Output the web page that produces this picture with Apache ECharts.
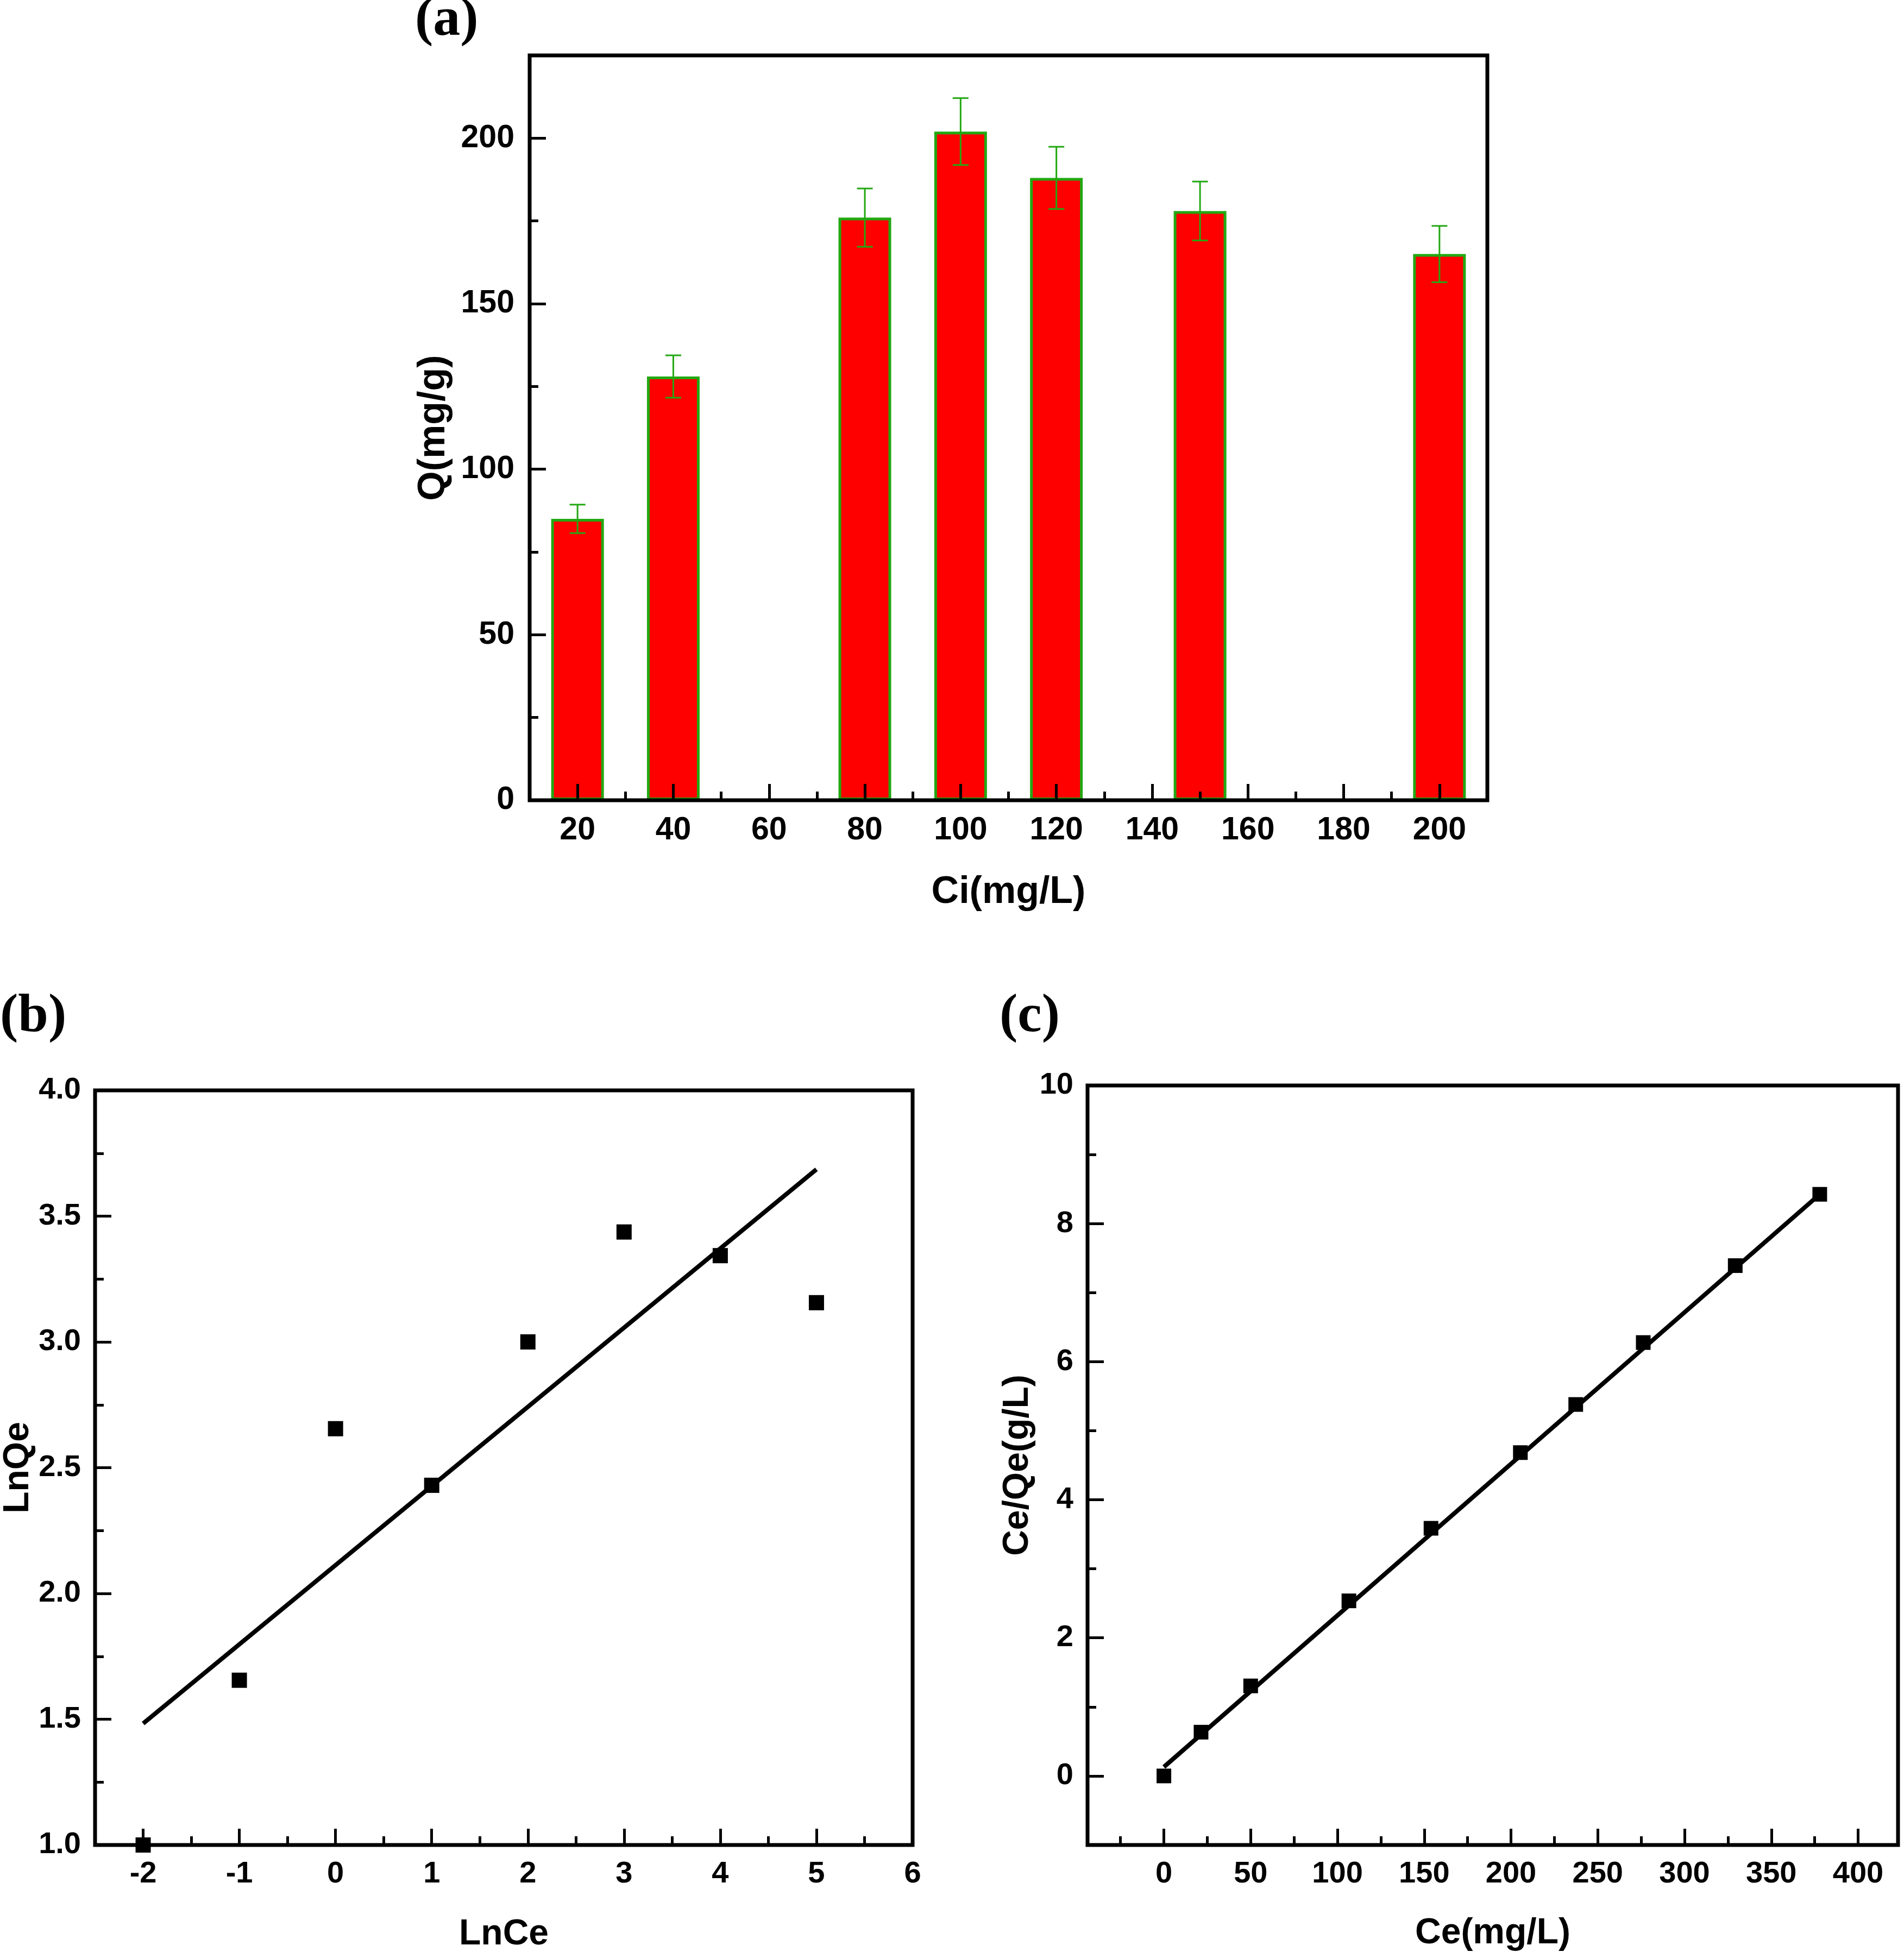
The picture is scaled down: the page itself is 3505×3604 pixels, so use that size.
<!DOCTYPE html>
<html>
<head>
<meta charset="utf-8">
<script src="https://cdn.jsdelivr.net/npm/echarts@6/dist/echarts.min.js"></script>
<style>
html,body{margin:0;padding:0;background:#fff;}
#chart{width:3505px;height:3604px;}
</style>
</head>
<body>
<div id="chart"></div>
<script>
// ---------- Panel (a) data ----------
const ciValues = [20, 40, 80, 100, 120, 150, 200];
const qValues = [85, 128, 176, 202, 188, 178, 165];
const qErrors = [4.3, 6.4, 8.8, 10.1, 9.4, 8.9, 8.5];
const aXTicks = [20, 40, 60, 80, 100, 120, 140, 160, 180, 200];
const aXMinor = [30, 50, 70, 90, 110, 130, 150, 170, 190];
const aYTicks = [0, 50, 100, 150, 200];
const aYMinor = [25, 75, 125, 175];

// ---------- Panel (b) data ----------
const lnCe = [-2, -1, 0, 1, 2, 3, 4, 5];
const lnQe = [1.0, 1.655, 2.655, 2.43, 3.0, 3.437, 3.343, 3.156];
const fitBx = [-2, 5];
const fitBy = [1.483, 3.686];
const bXTicks = [-2, -1, 0, 1, 2, 3, 4, 5, 6];
const bXMinor = [-1.5, -0.5, 0.5, 1.5, 2.5, 3.5, 4.5, 5.5];
const bYTicks = [1.0, 1.5, 2.0, 2.5, 3.0, 3.5, 4.0];
const bYMinor = [1.25, 1.75, 2.25, 2.75, 3.25, 3.75];

// ---------- Panel (c) data ----------
const ceValues = [0, 21.4, 50, 106.6, 153.9, 205.4, 237.3, 276.2, 329.2, 377.9];
const ceQeValues = [0, 0.634, 1.304, 2.536, 3.587, 4.683, 5.38, 6.277, 7.391, 8.424];
const fitCx = [0, 377.9];
const fitCy = [0.13, 8.424];
const cXTicks = [0, 50, 100, 150, 200, 250, 300, 350, 400];
const cXMinor = [-25, 25, 75, 125, 175, 225, 275, 325, 375];
const cYTicks = [0, 2, 4, 6, 8, 10];
const cYMinor = [1, 3, 5, 7, 9];

// ---------- fonts ----------
const narrowOK = (function () {
  try {
    const c = document.createElement('canvas').getContext('2d');
    c.font = 'bold 60px monospace';
    const w1 = c.measureText('0123456789.-LnCe').width;
    c.font = 'bold 60px "Liberation Sans Narrow", monospace';
    const w2 = c.measureText('0123456789.-LnCe').width;
    return Math.abs(w1 - w2) > 1;
  } catch (e) { return false; }
})();
const SANS = '"Liberation Sans", Arial, sans-serif';
const tickA = { fontFamily: SANS, fontSize: 59 };
const tickBC = narrowOK ? { fontFamily: '"Liberation Sans Narrow", ' + SANS, fontSize: 60 }
                        : { fontFamily: SANS, fontSize: 56 };
const GREEN = '#22a812';
const BLACK = '#000000';

function mainAxis(opt) {
  return {
    type: 'value', gridIndex: opt.grid, position: opt.pos, min: opt.min, max: opt.max, z: 6,
    name: opt.name, nameLocation: 'middle', nameGap: opt.nameGap, nameRotate: opt.nameRotate,
    nameTextStyle: { fontFamily: SANS, fontWeight: 'bold', fontSize: opt.nameSize, color: BLACK },
    axisLine: { show: false, onZero: false },
    splitLine: { show: false },
    axisTick: { show: true, inside: true, length: 30, customValues: opt.ticks, lineStyle: { color: BLACK, width: 5 } },
    axisLabel: {
      show: true, customValues: opt.ticks, margin: opt.margin, color: BLACK, fontWeight: 'bold',
      fontFamily: opt.font.fontFamily, fontSize: opt.font.fontSize, formatter: opt.fmt
    }
  };
}
function minorAxis(opt) {
  return {
    type: 'value', gridIndex: opt.grid, position: opt.pos, min: opt.min, max: opt.max, z: 6,
    axisLine: { show: false, onZero: false }, splitLine: { show: false },
    axisLabel: { show: false },
    axisTick: { show: true, inside: true, length: 16, customValues: opt.ticks, lineStyle: { color: BLACK, width: 5 } }
  };
}
const fmt1 = v => Number(v).toFixed(1);
const fmt0 = v => String(Math.round(v));

const gridBase = { show: true, borderColor: BLACK, borderWidth: 7, backgroundColor: 'transparent', z: 5 };

const option = {
  backgroundColor: '#ffffff',
  animation: false,
  title: [
    { text: '(a)', left: 764, top: -12, padding: 0, textStyle: { fontFamily: '"Liberation Serif", "Times New Roman", serif', fontWeight: 'bold', fontSize: 100, color: BLACK } },
    { text: '(b)', left: 0, top: 1822, padding: 0, textStyle: { fontFamily: '"Liberation Serif", "Times New Roman", serif', fontWeight: 'bold', fontSize: 100, color: BLACK } },
    { text: '(c)', left: 1840, top: 1822, padding: 0, textStyle: { fontFamily: '"Liberation Serif", "Times New Roman", serif', fontWeight: 'bold', fontSize: 100, color: BLACK } }
  ],
  grid: [
    Object.assign({ left: 975, top: 102, width: 1763, height: 1371 }, gridBase),
    Object.assign({ left: 168, top: 2007, width: 1512, height: 1389 }, gridBase),
    Object.assign({ left: 2002, top: 1998, width: 1492, height: 1398 }, gridBase)
  ],
  xAxis: [
    mainAxis({ grid: 0, pos: 'bottom', min: 10, max: 210, ticks: aXTicks, name: 'Ci(mg/L)', nameGap: 135, nameSize: 70, margin: 26, font: tickA, fmt: fmt0 }),
    minorAxis({ grid: 0, pos: 'bottom', min: 10, max: 210, ticks: aXMinor }),
    mainAxis({ grid: 1, pos: 'bottom', min: -2.5, max: 6, ticks: bXTicks, name: 'LnCe', nameGap: 132, nameSize: 66, margin: 26, font: tickBC, fmt: fmt0 }),
    minorAxis({ grid: 1, pos: 'bottom', min: -2.5, max: 6, ticks: bXMinor }),
    mainAxis({ grid: 2, pos: 'bottom', min: -44, max: 423, ticks: cXTicks, name: 'Ce(mg/L)', nameGap: 130, nameSize: 66, margin: 26, font: tickBC, fmt: fmt0 }),
    minorAxis({ grid: 2, pos: 'bottom', min: -44, max: 423, ticks: cXMinor })
  ],
  yAxis: [
    mainAxis({ grid: 0, pos: 'left', min: 0, max: 225, ticks: aYTicks, name: 'Q(mg/g)', nameGap: 141, nameRotate: 90, nameSize: 70, margin: 28, font: tickA, fmt: fmt0 }),
    minorAxis({ grid: 0, pos: 'left', min: 0, max: 225, ticks: aYMinor }),
    mainAxis({ grid: 1, pos: 'left', min: 1, max: 4, ticks: bYTicks, name: 'LnQe', nameGap: 108, nameRotate: 90, nameSize: 66, margin: 26, font: tickBC, fmt: fmt1 }),
    minorAxis({ grid: 1, pos: 'left', min: 1, max: 4, ticks: bYMinor }),
    mainAxis({ grid: 2, pos: 'left', min: -1, max: 10, ticks: cYTicks, name: 'Ce/Qe(g/L)', nameGap: 95, nameRotate: 90, nameSize: 66, margin: 26, font: tickBC, fmt: fmt0 }),
    minorAxis({ grid: 2, pos: 'left', min: -1, max: 10, ticks: cYMinor })
  ],
  series: [
    {
      type: 'bar', xAxisIndex: 0, yAxisIndex: 0, z: 2,
      data: ciValues.map((c, i) => [c, qValues[i]]),
      barWidth: 97,
      itemStyle: { color: '#ff0000', borderColor: GREEN, borderWidth: 5, opacity: 1 }
    },
    {
      type: 'custom', xAxisIndex: 0, yAxisIndex: 0, z: 3,
      data: ciValues.map((c, i) => [c, qValues[i], qErrors[i]]),
      renderItem: function (params, api) {
        const x = api.value(0), y = api.value(1), e = api.value(2);
        const top = api.coord([x, y + e]);
        const bot = api.coord([x, y - e]);
        const hw = 14.5;
        const st = { stroke: GREEN, lineWidth: 3 };
        return {
          type: 'group', children: [
            { type: 'line', shape: { x1: top[0], y1: top[1], x2: bot[0], y2: bot[1] }, style: st },
            { type: 'line', shape: { x1: top[0] - hw, y1: top[1], x2: top[0] + hw, y2: top[1] }, style: st },
            { type: 'line', shape: { x1: bot[0] - hw, y1: bot[1], x2: bot[0] + hw, y2: bot[1] }, style: st }
          ]
        };
      }
    },
    {
      type: 'line', xAxisIndex: 2, yAxisIndex: 2, z: 2,
      data: fitBx.map((x, i) => [x, fitBy[i]]),
      showSymbol: false, symbol: 'none',
      lineStyle: { color: BLACK, width: 8 }
    },
    {
      type: 'scatter', xAxisIndex: 2, yAxisIndex: 2, z: 3,
      data: lnCe.map((x, i) => [x, lnQe[i]]),
      symbol: 'rect', symbolSize: 28,
      itemStyle: { color: BLACK, opacity: 1 }
    },
    {
      type: 'line', xAxisIndex: 4, yAxisIndex: 4, z: 2,
      data: fitCx.map((x, i) => [x, fitCy[i]]),
      showSymbol: false, symbol: 'none',
      lineStyle: { color: BLACK, width: 8 }
    },
    {
      type: 'scatter', xAxisIndex: 4, yAxisIndex: 4, z: 3,
      data: ceValues.map((x, i) => [x, ceQeValues[i]]),
      symbol: 'rect', symbolSize: 27,
      itemStyle: { color: BLACK, opacity: 1 }
    }
  ]
};

const chart = echarts.init(document.getElementById('chart'), null, { renderer: 'canvas', width: 3505, height: 3604 });
chart.setOption(option);
</script>
</body>
</html>
